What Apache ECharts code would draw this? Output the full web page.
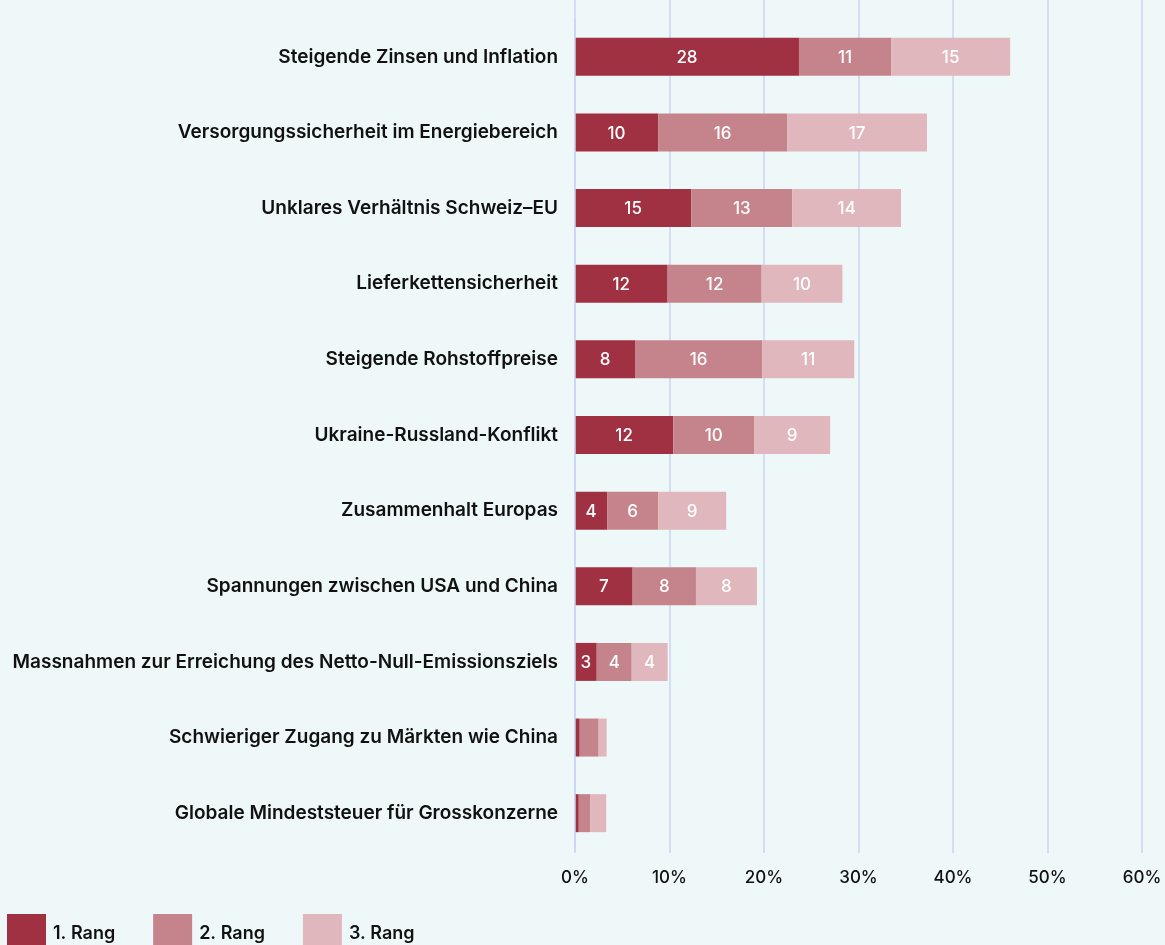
<!DOCTYPE html>
<html>
<head>
<meta charset="utf-8">
<script src="https://cdn.jsdelivr.net/npm/echarts@6/dist/echarts.min.js"></script>
<style>
  html, body { margin: 0; padding: 0; background: #eff8f9; }
  #chart { width: 1165px; height: 945px; }
</style>
</head>
<body>
<div id="chart"></div>
<script>
// categories, top to bottom
const categories = [
  'Steigende Zinsen und Inflation',
  'Versorgungssicherheit im Energiebereich',
  'Unklares Verhältnis Schweiz–EU',
  'Lieferkettensicherheit',
  'Steigende Rohstoffpreise',
  'Ukraine-Russland-Konflikt',
  'Zusammenhalt Europas',
  'Spannungen zwischen USA und China',
  'Massnahmen zur Erreichung des Netto-Null-Emissionsziels',
  'Schwieriger Zugang zu Märkten wie China',
  'Globale Mindeststeuer für Grosskonzerne'
]
const seriesNames = ['1. Rang', '2. Rang', '3. Rang']

// bar lengths in percent
const rang1 = [23.7, 8.8, 12.3, 9.8, 6.35, 10.4, 3.4, 6.1, 2.3, 0.5, 0.4]
const rang2 = [9.75, 13.65, 10.7, 9.95, 13.45, 8.55, 5.4, 6.7, 3.7, 2.0, 1.2]
const rang3 = [12.6, 14.8, 11.5, 8.55, 9.75, 8.05, 7.2, 6.45, 3.8, 0.85, 1.7]

// numbers printed inside the bars
const label1 = [28, 10, 15, 12, 8, 12, 4, 7, 3, null, null]
const label2 = [11, 16, 13, 12, 16, 10, 6, 8, 4, null, null]
const label3 = [15, 17, 14, 10, 11, 9, 9, 8, 4, null, null]

const xTicks = [0, 10, 20, 30, 40, 50, 60]

const colors = ['#a03142', '#c5838b', '#e0b7bc']
const font = 'Inter, "Noto Sans", sans-serif'

function makeSeries(name, values, labels, color) {
  return {
    name: name,
    type: 'bar',
    stack: 'total',
    barWidth: 38,
    xAxisIndex: 0,
    yAxisIndex: 0,
    itemStyle: { color: color },
    label: {
      show: true,
      position: 'inside',
      color: '#ffffff',
      fontFamily: font,
      fontSize: 17,
      fontWeight: 500,
      offset: [0, 1],
      formatter: (p) => labels[p.dataIndex] == null ? '' : String(labels[p.dataIndex])
    },
    data: values
  }
}

const chart = echarts.init(document.getElementById('chart'))

chart.setOption({
  backgroundColor: '#eff8f9',
  animation: false,
  color: colors,
  grid: [
    { left: 575, right: 23, top: 19, height: 832 },
    // taller grid only for the vertical grid lines
    { left: 575, right: 23, top: 0, height: 853 }
  ],
  legend: {
    left: 2,
    top: 909,
    itemWidth: 39,
    itemHeight: 39,
    itemGap: 38,
    icon: 'rect',
    textStyle: { fontFamily: font, fontSize: 18, fontWeight: 600, color: '#111111', padding: [4, 0, 0, 2] },
    data: seriesNames
  },
  xAxis: [
    {
      gridIndex: 0,
      type: 'value',
      min: 0,
      max: 60,
      interval: 10,
      axisLine: { show: false },
      axisTick: { show: false },
      splitLine: { show: false },
      axisLabel: {
        margin: 18,
        color: '#111111',
        fontFamily: font,
        fontSize: 17,
        fontWeight: 500,
        formatter: (v) => xTicks.includes(v) ? v + '%' : ''
      }
    },
    {
      gridIndex: 1,
      type: 'value',
      min: 0,
      max: 60,
      interval: 10,
      axisLine: { show: false },
      axisTick: { show: false },
      axisLabel: { show: false },
      splitLine: { show: true, lineStyle: { color: '#cbd5f2', width: 1.5 } }
    }
  ],
  yAxis: [
    {
      gridIndex: 0,
      type: 'category',
      inverse: true,
      data: categories,
      axisLine: { show: true, lineStyle: { color: '#cbd5f2', width: 1.5 } },
      axisTick: { show: false },
      axisLabel: {
        margin: 17,
        color: '#111111',
        fontFamily: font,
        fontSize: 19,
        fontWeight: 600,
        padding: [6, 0, 0, 0]
      },
      z: 3
    },
    {
      gridIndex: 1,
      type: 'category',
      data: [''],
      show: false
    }
  ],
  series: [
    makeSeries(seriesNames[0], rang1, label1, colors[0]),
    makeSeries(seriesNames[1], rang2, label2, colors[1]),
    makeSeries(seriesNames[2], rang3, label3, colors[2])
  ]
})
</script>
</body>
</html>
